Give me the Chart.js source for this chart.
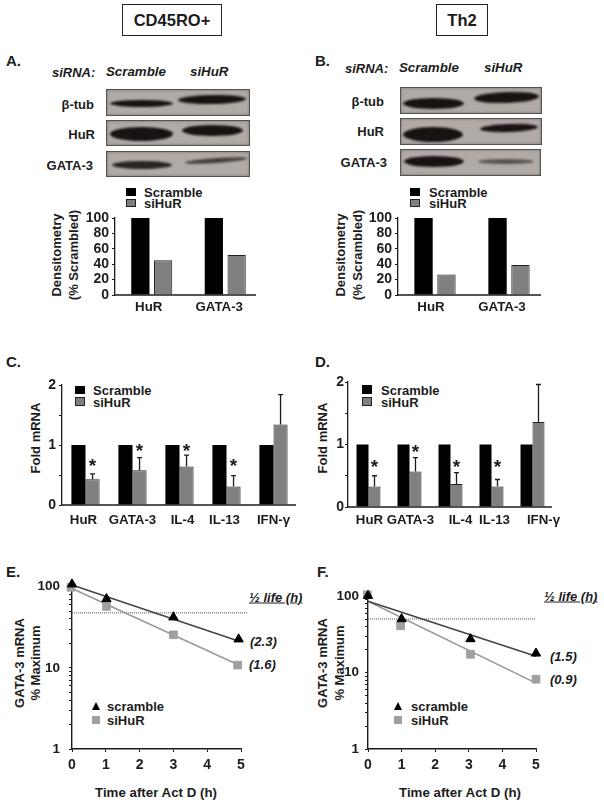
<!DOCTYPE html>
<html>
<head>
<meta charset="utf-8">
<title>HuR knockdown panels</title>
<script src="https://cdn.jsdelivr.net/npm/chart.js@4"></script>
<style>
  html, body { margin: 0; padding: 0; background: #fff; }
  body { position: relative; width: 604px; height: 806px; overflow: hidden; font-family: "Liberation Sans", Arial, sans-serif; font-weight: bold; color: #1c1c1c; filter: blur(0.35px); }
  canvas { position: absolute; }
  .t { position: absolute; white-space: nowrap; font-size: 13px; line-height: 1; transform: translateY(-50%); }
  .it { font-style: italic; }
  .rt { text-align: right; transform: translate(-100%, -50%); }
  .rot { position: absolute; white-space: nowrap; font-size: 13px; line-height: 1; transform: translate(-50%, -50%) rotate(-90deg); }
  .mid { transform: translate(-50%, -50%); }
  .letter { font-size: 15px; font-weight: bold; }
  .box { position: absolute; top: 4px; height: 30px; border: 1.3px solid #222; text-align: center; font-size: 16.5px; line-height: 30px; }
  .blot { position: absolute; box-sizing: border-box; background: #b0aba7; border: 1px solid #55524f; box-shadow: inset 0 0 3px #77736f; }
  .band { position: absolute; border-radius: 50%; background: #181312; filter: blur(1px); }
  .sq { position: absolute; width: 10px; height: 8px; background: #000; }
  .sq.g { box-sizing: border-box; background: #808080; border: 1px solid #222; }
  .tri { position: absolute; width: 0; height: 0; border-left: 4.5px solid transparent; border-right: 4.5px solid transparent; border-bottom: 8px solid #000; }
  .mk { position: absolute; width: 8px; height: 8px; background: #a0a0a0; }
</style>
</head>
<body>
  <div class="box" style="left:122px;width:98px">CD45RO+</div>
  <div class="box" style="left:436px;width:50px">Th2</div>

  <div class="t letter" style="left:6px;top:60px">A.</div>
  <div class="t letter" style="left:315px;top:60px">B.</div>
  <div class="t letter" style="left:6px;top:361px">C.</div>
  <div class="t letter" style="left:315px;top:361px">D.</div>
  <div class="t letter" style="left:6px;top:571px">E.</div>
  <div class="t letter" style="left:317px;top:571px">F.</div>

  <!-- western blots, panel A -->
  <div class="t it" style="left:52px;top:72px">siRNA:</div>
  <div class="t it" style="left:106px;top:72px;font-size:13.3px">Scramble</div>
  <div class="t it" style="left:190px;top:72px;font-size:13.3px">siHuR</div>
  <div class="t rt" style="left:94px;top:104px">β-tub</div>
  <div class="t rt" style="left:95px;top:134px">HuR</div>
  <div class="t rt" style="left:93px;top:165px">GATA-3</div>
  <div class="blot" style="left:106px;top:89px;width:144px;height:27px"></div>
  <div class="blot" style="left:106px;top:120px;width:144px;height:26px"></div>
  <div class="blot" style="left:106px;top:151px;width:144px;height:26px"></div>
  <div class="band" style="left:110px;top:100px;width:63px;height:7px"></div>
  <div class="band" style="left:178px;top:95px;width:68px;height:9px;transform:rotate(-1deg)"></div>
  <div class="band" style="left:110px;top:127px;width:63px;height:14px"></div>
  <div class="band" style="left:182px;top:125px;width:61px;height:11px"></div>
  <div class="band" style="left:112px;top:161px;width:60px;height:8px;background:#2a2522"></div>
  <div class="band" style="left:185px;top:158px;width:62px;height:5px;background:#443f3c;transform:rotate(-4deg)"></div>

  <!-- western blots, panel B -->
  <div class="t it" style="left:345px;top:68px">siRNA:</div>
  <div class="t it" style="left:399px;top:68px;font-size:13.3px">Scramble</div>
  <div class="t it" style="left:484px;top:68px;font-size:13.3px">siHuR</div>
  <div class="t rt" style="left:384px;top:101px">β-tub</div>
  <div class="t rt" style="left:384px;top:131px">HuR</div>
  <div class="t rt" style="left:387px;top:162px">GATA-3</div>
  <div class="blot" style="left:400px;top:87px;width:142px;height:27px"></div>
  <div class="blot" style="left:400px;top:118px;width:142px;height:27px"></div>
  <div class="blot" style="left:400px;top:149px;width:141px;height:27px"></div>
  <div class="band" style="left:403px;top:98px;width:61px;height:11px"></div>
  <div class="band" style="left:474px;top:92px;width:65px;height:11px;transform:rotate(-2deg)"></div>
  <div class="band" style="left:403px;top:127px;width:60px;height:15px"></div>
  <div class="band" style="left:480px;top:124px;width:58px;height:8px;transform:rotate(-2deg)"></div>
  <div class="band" style="left:404px;top:156px;width:60px;height:11px"></div>
  <div class="band" style="left:478px;top:159px;width:56px;height:5px;background:#5a5450"></div>

  <!-- legends and axis titles, panels A and B -->
  <div class="sq" style="left:126px;top:188px"></div>
  <div class="sq g" style="left:126px;top:199px"></div>
  <div class="t" style="left:144px;top:192px">Scramble</div>
  <div class="t" style="left:144px;top:203px">siHuR</div>
  <div class="rot" style="left:56px;top:255px">Densitometry</div>
  <div class="rot" style="left:73px;top:255px">(% Scrambled)</div>

  <div class="sq" style="left:410px;top:188px"></div>
  <div class="sq g" style="left:410px;top:199px"></div>
  <div class="t" style="left:429px;top:192px">Scramble</div>
  <div class="t" style="left:429px;top:203px">siHuR</div>
  <div class="rot" style="left:340px;top:255px">Densitometry</div>
  <div class="rot" style="left:357px;top:255px">(% Scrambled)</div>

  <!-- legends and axis titles, panels C and D -->
  <div class="sq" style="left:75px;top:386px"></div>
  <div class="sq g" style="left:75px;top:397px;height:9px"></div>
  <div class="t" style="left:93px;top:390px">Scramble</div>
  <div class="t" style="left:93px;top:402px">siHuR</div>
  <div class="rot" style="left:35px;top:438px">Fold mRNA</div>

  <div class="sq" style="left:362px;top:385px;height:9px"></div>
  <div class="sq g" style="left:362px;top:397px;height:9px"></div>
  <div class="t" style="left:381px;top:390px">Scramble</div>
  <div class="t" style="left:381px;top:402px">siHuR</div>
  <div class="rot" style="left:322px;top:438px">Fold mRNA</div>

  <!-- legends and annotations, panels E and F -->
  <div class="tri" style="left:92px;top:702px"></div>
  <div class="mk" style="left:92px;top:716px"></div>
  <div class="t" style="left:107px;top:706px">scramble</div>
  <div class="t" style="left:107px;top:720px">siHuR</div>
  <div class="rot" style="left:19px;top:663px">GATA-3 mRNA</div>
  <div class="rot" style="left:35px;top:663px">% Maximum</div>
  <div class="t it" style="left:249px;top:597px;text-decoration:underline">½ life (h)</div>
  <div class="t it" style="left:250px;top:641px">(2.3)</div>
  <div class="t it" style="left:249px;top:664px">(1.6)</div>
  <div class="t mid" style="left:156px;top:793px;font-size:13.3px">Time after Act D (h)</div>

  <div class="tri" style="left:394px;top:702px"></div>
  <div class="mk" style="left:394px;top:716px"></div>
  <div class="t" style="left:411px;top:706px">scramble</div>
  <div class="t" style="left:411px;top:720px">siHuR</div>
  <div class="rot" style="left:322px;top:663px">GATA-3 mRNA</div>
  <div class="rot" style="left:339px;top:663px">% Maximum</div>
  <div class="t it" style="left:544px;top:596px;text-decoration:underline">½ life (h)</div>
  <div class="t it" style="left:550px;top:656px">(1.5)</div>
  <div class="t it" style="left:550px;top:679px">(0.9)</div>
  <div class="t mid" style="left:460px;top:793px;font-size:13.3px">Time after Act D (h)</div>

  <canvas id="chartA"></canvas>
  <canvas id="chartB"></canvas>
  <canvas id="chartC"></canvas>
  <canvas id="chartD"></canvas>
  <canvas id="chartE"></canvas>
  <canvas id="chartF"></canvas>

<script>
  // Densitometry bars (panels A, B)
  const densityLabels = ["HuR", "GATA-3"];
  const densityTicks = [0, 20, 40, 60, 80, 100];
  const scrambleA = [100, 100];
  const siHuRA = [45, 52];
  const scrambleB = [100, 100];
  const siHuRB = [26.5, 39];

  // Fold mRNA bars (panels C, D)
  const mrnaLabels = ["HuR", "GATA-3", "IL-4", "IL-13", "IFN-γ"];
  const scrambleC = [1, 1, 1, 1, 1];
  const siHuRC = [0.43, 0.58, 0.64, 0.31, 1.34];
  const errorTopC = [0.52, 0.79, 0.83, 0.49, 1.84];
  const starsC = [0.68, 0.93, 0.94, 0.68, null];
  const scrambleD = [1, 1, 1, 1, 1];
  const siHuRD = [0.33, 0.57, 0.37, 0.33, 1.36];
  const errorTopD = [0.5, 0.79, 0.55, 0.44, 1.96];
  const starsD = [0.68, 0.91, 0.68, 0.68, null];

  // Decay curves (panels E, F)
  const decayTicks = [1, 2, 3, 4, 5, 6, 7, 8, 9, 10, 20, 30, 40, 50, 60, 70, 80, 90, 100];
  const timeE = [0, 1.02, 3, 4.93];
  const scrambleE = [107, 70.5, 42, 22.5];
  const timeSiE = [-0.03, 1.02, 3, 4.9];
  const siHuRE = [98, 57, 25.5, 10.8];
  const fitTimeE = [0, 4.9];
  const fitScrambleE = [105, 21.5];
  const fitSiHuRE = [95, 11];
  const halfLineTimeE = [0, 5.18];
  const halfLineE = [47.5, 47.5];
  const timeF = [0, 1, 3.05, 5];
  const scrambleF = [102, 50.5, 27.6, 17.9];
  const timeSiF = [-0.02, 0.97, 3.05, 5];
  const siHuRF = [105, 41, 17.4, 8.2];
  const fitTimeF = [0, 5];
  const fitScrambleF = [86, 16.4];
  const fitSiHuRF = [86, 7.3];
  const halfLineTimeF = [0, 5];
  const halfLineF = [50.5, 50.5];

  const FONT = "'Liberation Sans', Arial, sans-serif";
  const INK = "#1c1c1c";
  const AXIS_W = 60, AXIS_H = 34, PAD_TOP = 10, PAD_RIGHT = 12;

  // Put a canvas so that its plot area lands on the given page rectangle
  function placeCanvas(id, box) {
    const canvas = document.getElementById(id);
    canvas.width = box.right - box.left + AXIS_W + PAD_RIGHT;
    canvas.height = box.bottom - box.top + AXIS_H + PAD_TOP;
    canvas.style.left = box.left - AXIS_W + "px";
    canvas.style.top = box.top - PAD_TOP + "px";
    return canvas.getContext("2d");
  }

  function fixWidth(scale) {
    scale.width = AXIS_W;
    scale.paddingTop = scale.paddingBottom = 0;
  }

  function fixHeight(scale) {
    scale.height = AXIS_H;
    scale.paddingLeft = scale.paddingRight = 0;
  }

  // Error whiskers, asterisks, baseline and category labels of the bar panels
  const barExtras = {
    id: "barExtras",
    afterDatasetsDraw(chart, args, opts) {
      const ctx = chart.ctx, x = chart.scales.x, y = chart.scales.y;
      const bars = chart.getDatasetMeta(1).data;
      ctx.save();
      ctx.strokeStyle = INK;
      ctx.fillStyle = INK;
      ctx.lineWidth = 1.3;
      ctx.beginPath();
      ctx.moveTo(chart.chartArea.left, y.getPixelForValue(0));
      ctx.lineTo(chart.chartArea.right - opts.trim, y.getPixelForValue(0));
      ctx.stroke();
      ctx.textAlign = "center";
      ctx.textBaseline = "middle";
      (opts.errorTop || []).forEach((top, i) => {
        const px = bars[i].x, from = y.getPixelForValue(chart.data.datasets[1].data[i]), to = y.getPixelForValue(top);
        ctx.beginPath();
        ctx.moveTo(px, from);
        ctx.lineTo(px, to);
        ctx.moveTo(px - 2.5, to);
        ctx.lineTo(px + 2.5, to);
        ctx.stroke();
      });
      ctx.font = "bold 19px " + FONT;
      (opts.stars || []).forEach((star, i) => {
        if (star !== null) ctx.fillText("*", bars[i].x, y.getPixelForValue(star) + 3);
      });
      ctx.font = "bold 13.3px " + FONT;
      chart.data.labels.forEach((label, i) => {
        ctx.fillText(label, x.getPixelForTick(i) + opts.nudge[i], y.getPixelForValue(0) + opts.labelGap);
      });
      ctx.restore();
    },
  };

  function createBarChart(id, box, labels, scramble, siHuR, yOpts, extras) {
    return new Chart(placeCanvas(id, box), {
      type: "bar",
      data: {
        labels: labels,
        datasets: [
          { label: "Scramble", data: scramble, backgroundColor: "#000", barPercentage: yOpts.barPercentage, categoryPercentage: yOpts.categoryPercentage },
          { label: "siHuR", data: siHuR, backgroundColor: "#808080", borderColor: "#222", borderWidth: 1, barPercentage: yOpts.barPercentage, categoryPercentage: yOpts.categoryPercentage },
        ],
      },
      options: {
        responsive: false,
        animation: false,
        layout: { padding: { top: PAD_TOP, right: PAD_RIGHT } },
        plugins: { legend: { display: false }, tooltip: { enabled: false }, barExtras: extras },
        scales: {
          x: {
            afterFit: fixHeight,
            grid: { display: false },
            border: { display: false },
            ticks: { display: false },
          },
          y: {
            min: 0,
            max: yOpts.max,
            afterFit: fixWidth,
            afterBuildTicks: (scale) => { scale.ticks = yOpts.ticks.map((v) => ({ value: v })); },
            grid: { drawOnChartArea: false, tickLength: 3, tickColor: INK },
            border: { color: INK, width: 1.3 },
            ticks: {
              autoSkip: false,
              padding: yOpts.padding,
              color: INK,
              font: { family: FONT, weight: "bold", size: 14 },
              callback: yOpts.label,
            },
          },
        },
      },
      plugins: [barExtras],
    });
  }

  function zipPoints(xs, ys) {
    return xs.map((x, i) => ({ x: x, y: ys[i] }));
  }

  function createDecayChart(id, box, d) {
    return new Chart(placeCanvas(id, box), {
      type: "scatter",
      data: {
        datasets: [
          { label: "scramble", data: zipPoints(d.time, d.scramble), pointStyle: "triangle", pointRadius: 5.4, backgroundColor: "#000", borderColor: "#000", clip: false },
          { label: "siHuR", data: zipPoints(d.timeSi, d.siHuR), pointStyle: "rect", pointRadius: 5.4, backgroundColor: "#a0a0a0", borderColor: "#a0a0a0", clip: false },
          { label: "scramble fit", data: zipPoints(d.fitTime, d.fitScramble), showLine: true, pointRadius: 0, borderColor: "#444", borderWidth: 1.6, clip: false },
          { label: "siHuR fit", data: zipPoints(d.fitTime, d.fitSiHuR), showLine: true, pointRadius: 0, borderColor: "#999", borderWidth: 1.6, clip: false },
          { label: "half", data: zipPoints(d.halfTime, d.half), showLine: true, pointRadius: 0, borderColor: "#555", borderWidth: 1, borderDash: [1, 1], clip: false },
        ],
      },
      options: {
        responsive: false,
        animation: false,
        layout: { padding: { top: PAD_TOP, right: PAD_RIGHT } },
        plugins: { legend: { display: false }, tooltip: { enabled: false } },
        scales: {
          x: {
            type: "linear",
            min: 0,
            max: 5,
            afterFit: fixHeight,
            grid: { drawOnChartArea: false, tickLength: 3, tickColor: INK },
            border: { color: INK, width: 1.4 },
            ticks: { stepSize: 1, padding: 5, color: INK, font: { family: FONT, weight: "bold", size: 14 } },
          },
          y: {
            type: "logarithmic",
            min: 1,
            max: 114,
            afterFit: fixWidth,
            afterBuildTicks: (scale) => { scale.ticks = decayTicks.map((v) => ({ value: v })); },
            grid: { drawOnChartArea: false, tickLength: 3, tickColor: INK },
            border: { color: INK, width: 1.4 },
            ticks: {
              autoSkip: false,
              padding: d.labelPadding,
              color: INK,
              font: { family: FONT, weight: "bold", size: 13.5 },
              callback: (v) => ([1, 10, 100].includes(v) ? String(v) : ""),
            },
          },
        },
      },
    });
  }

  const densityAxis = { max: 100, ticks: densityTicks, padding: 3, barPercentage: 0.8, categoryPercentage: 0.62, label: (v) => String(v) };
  const mrnaTicks = [0, 0.5, 1, 1.5, 2];
  const mrnaLabel = (v) => (Number.isInteger(v) ? String(v) : "");

  createBarChart("chartA", { left: 115, top: 218, right: 262, bottom: 295 }, densityLabels, scrambleA, siHuRA, densityAxis,
    { trim: 6, labelGap: 12, nudge: [-3, -6] });
  createBarChart("chartB", { left: 398, top: 218, right: 546, bottom: 295 }, densityLabels, scrambleB, siHuRB, densityAxis,
    { trim: 5, labelGap: 12, nudge: [-4, -7] });
  createBarChart("chartC", { left: 62, top: 385, right: 297, bottom: 505 }, mrnaLabels, scrambleC, siHuRC,
    { max: 2, ticks: mrnaTicks, padding: 3, barPercentage: 1, categoryPercentage: 0.6, label: mrnaLabel },
    { trim: 1, labelGap: 15, errorTop: errorTopC, stars: starsC, nudge: [-2, 0, 3, -2, 0] });
  createBarChart("chartD", { left: 348, top: 382, right: 553, bottom: 507 }, mrnaLabels, scrambleD, siHuRD,
    { max: 2, ticks: mrnaTicks, padding: 1, barPercentage: 1, categoryPercentage: 0.585, label: mrnaLabel },
    { trim: 1, labelGap: 13, errorTop: errorTopD, stars: starsD, nudge: [1, 1, 10, 3, 11] });

  createDecayChart("chartE", { left: 72, top: 582, right: 241, bottom: 749 }, {
    time: timeE, scramble: scrambleE, timeSi: timeSiE, siHuR: siHuRE,
    fitTime: fitTimeE, fitScramble: fitScrambleE, fitSiHuR: fitSiHuRE, halfTime: halfLineTimeE, half: halfLineE, labelPadding: 9,
  });
  createDecayChart("chartF", { left: 368, top: 592, right: 536, bottom: 749 }, {
    time: timeF, scramble: scrambleF, timeSi: timeSiF, siHuR: siHuRF,
    fitTime: fitTimeF, fitScramble: fitScrambleF, fitSiHuR: fitSiHuRF, halfTime: halfLineTimeF, half: halfLineF, labelPadding: 6,
  });
</script>
</body>
</html>
